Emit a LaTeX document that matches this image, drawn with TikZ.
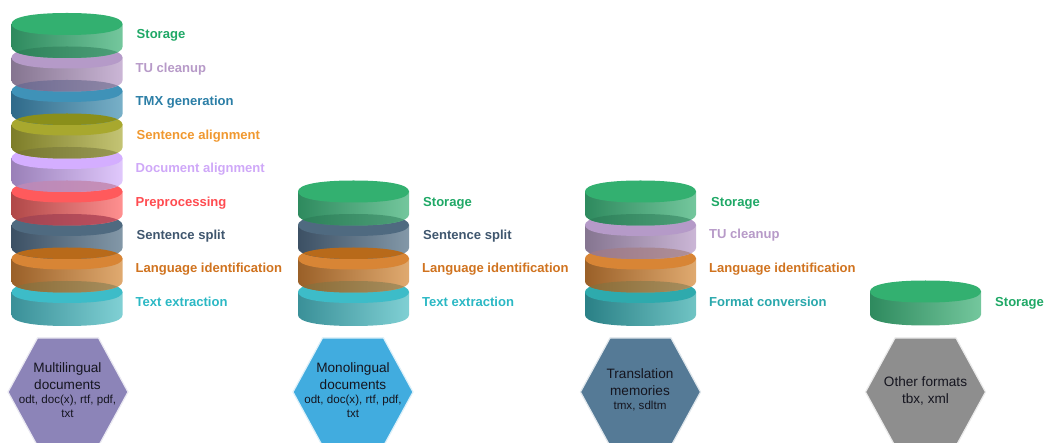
\documentclass[tikz,border=0pt]{standalone}
\usepackage{fontspec}
\setmainfont{Liberation Sans}
\definecolor{stoT}{HTML}{33B070}\definecolor{stoL}{HTML}{2E8A5E}\definecolor{stoR}{HTML}{74C79D}
\definecolor{tuT}{HTML}{B59AC8}\definecolor{tuL}{HTML}{857590}\definecolor{tuR}{HTML}{CBB6D6}
\definecolor{tmxT}{HTML}{3F92B8}\definecolor{tmxL}{HTML}{2F6A8A}\definecolor{tmxR}{HTML}{78B0C8}
\definecolor{senT}{HTML}{A8A82E}\definecolor{senL}{HTML}{7D7D28}\definecolor{senR}{HTML}{C4C474}
\definecolor{docT}{HTML}{D4AEFF}\definecolor{docL}{HTML}{9A80B8}\definecolor{docR}{HTML}{E0C8FC}
\definecolor{preT}{HTML}{FF5A5C}\definecolor{preL}{HTML}{B04848}\definecolor{preR}{HTML}{FF9090}
\definecolor{splT}{HTML}{4F6A80}\definecolor{splL}{HTML}{3C5064}\definecolor{splR}{HTML}{8398A8}
\definecolor{lanT}{HTML}{D88535}\definecolor{lanL}{HTML}{9A6028}\definecolor{lanR}{HTML}{E0AA70}
\definecolor{txtT}{HTML}{3DBCC8}\definecolor{txtL}{HTML}{3A9098}\definecolor{txtR}{HTML}{80D0D4}
\definecolor{fmtT}{HTML}{2EAAAD}\definecolor{fmtL}{HTML}{2A8086}\definecolor{fmtR}{HTML}{70C4C4}
\definecolor{hexA}{HTML}{8C84B8}\definecolor{hexB}{HTML}{41ACDF}\definecolor{hexC}{HTML}{557A96}\definecolor{hexD}{HTML}{8E8E8E}
\definecolor{labSto}{HTML}{1FA866}\definecolor{labTu}{HTML}{B79AC8}\definecolor{labTmx}{HTML}{2B7EA6}
\definecolor{labSen}{HTML}{F0982F}\definecolor{labDoc}{HTML}{CFA8F8}\definecolor{labPre}{HTML}{FF4B50}
\definecolor{labSpl}{HTML}{3F566E}\definecolor{labLan}{HTML}{D0731F}\definecolor{labTxt}{HTML}{2BB8C4}\definecolor{labFmt}{HTML}{2AA8AC}
\definecolor{hexText}{HTML}{15151F}
% overlap lenses
\definecolor{lzStoL}{HTML}{2B8058}\definecolor{lzStoR}{HTML}{4FA07A}
\definecolor{lzTuL}{HTML}{6D6A90}\definecolor{lzTuR}{HTML}{9088A8}
\definecolor{lzTmx}{HTML}{8A8F1A}
\definecolor{lzSenL}{HTML}{76762F}\definecolor{lzSenR}{HTML}{9A9A55}
\definecolor{lzDocL}{HTML}{B888B8}\definecolor{lzDocR}{HTML}{C890B8}
\definecolor{lzPreL}{HTML}{A04450}\definecolor{lzPreR}{HTML}{C05060}
\definecolor{lzSpl}{HTML}{B86A1A}
\definecolor{lzLanL}{HTML}{8A6A35}\definecolor{lzLanR}{HTML}{A89060}
\definecolor{lzTvL}{HTML}{9A7888}\definecolor{lzTvR}{HTML}{B09098}
\tikzset{
  x=1pt,y=1pt,
  steplabel/.style={anchor=base west,inner sep=0pt,font=\fontsize{13.05}{15}\selectfont\bfseries},
  hextext/.style={align=center,inner sep=0pt,text=hexText,font=\fontsize{13.6}{17}\selectfont}
}
\newcommand{\smalltxt}{\fontsize{11.6}{13}\selectfont}
% slightly squared ellipse, x centre and y (pixels, upwards negative)
\newcommand{\upperhalf}[2]{(#1-55.5,#2) .. controls (#1-55.5,#2+7) and (#1-35,#2+11) .. (#1,#2+11) .. controls (#1+35,#2+11) and (#1+55.5,#2+7) .. (#1+55.5,#2)}
\newcommand{\lowerhalf}[2]{(#1-55.5,#2) .. controls (#1-55.5,#2-7) and (#1-35,#2-11) .. (#1,#2-11) .. controls (#1+35,#2-11) and (#1+55.5,#2-7) .. (#1+55.5,#2)}
% x centre, y of top ellipse centre (pixels), colour stem
\newcommand{\disk}[3]{%
  \shade[left color=#3L,right color=#3R]
    (#1-55.5,-#2) -- \lowerhalf{#1}{-#2-23} -- (#1+55.5,-#2) -- cycle;
  \fill[#3T] \upperhalf{#1}{-#2} -- (#1+55.5,-#2)
    .. controls (#1+55.5,-#2-7) and (#1+35,-#2-11) .. (#1,-#2-11)
    .. controls (#1-35,-#2-11) and (#1-55.5,-#2-7) .. (#1-55.5,-#2) -- cycle;
}
% darker lens where the disk above overlaps the top of the disk at y=#2
\newcommand{\lap}[4]{%
  \begin{scope}
    \clip \upperhalf{#1}{-#2} -- (#1+55.5,-#2)
      .. controls (#1+55.5,-#2-7) and (#1+35,-#2-11) .. (#1,-#2-11)
      .. controls (#1-35,-#2-11) and (#1-55.5,-#2-7) .. (#1-55.5,-#2) -- cycle;
    \shade[left color=#3,right color=#4]
      (#1-55.5,-#2+10.5) -- \lowerhalf{#1}{-#2+10.5} -- (#1+55.5,-#2+25) -- (#1-55.5,-#2+25) -- cycle;
  \end{scope}
}
\newcommand{\hexa}[3]{%
  \fill[#3,draw=#3!18!white,line width=1.2pt]
    (#1-60,-#2) -- (#1-30.5,-#2+54) -- (#1+30.5,-#2+54) -- (#1+60,-#2)
    -- (#1+30.5,-#2-54) -- (#1-30.5,-#2-54) -- cycle;
}
\newcommand{\lab}[5]{\node[steplabel,text=#4] (#1) at (#2,-#3-0.4) {#5};}
\begin{document}
\begin{tikzpicture}
\path[use as bounding box,clip] (0,-443) rectangle (1044,0);
% Stack 1
\disk{67}{292}{txt}
\disk{67}{258.5}{lan}\lap{67}{292}{lzLanL}{lzLanR}
\disk{67}{225}{spl}\lap{67}{258.5}{lzSpl}{lzSpl}
\disk{67}{191.5}{pre}\lap{67}{225}{lzPreL}{lzPreR}
\disk{67}{158}{doc}\lap{67}{191.5}{lzDocL}{lzDocR}
\disk{67}{124.5}{sen}\lap{67}{158}{lzSenL}{lzSenR}
\disk{67}{91}{tmx}\lap{67}{124.5}{lzTmx}{lzTmx}
\disk{67}{57.5}{tu}\lap{67}{91}{lzTuL}{lzTuR}
\disk{67}{24}{sto}\lap{67}{57.5}{lzStoL}{lzStoR}
% Stack 2
\disk{353.5}{292}{txt}
\disk{353.5}{258.5}{lan}\lap{353.5}{292}{lzLanL}{lzLanR}
\disk{353.5}{225}{spl}\lap{353.5}{258.5}{lzSpl}{lzSpl}
\disk{353.5}{191.5}{sto}\lap{353.5}{225}{lzStoL}{lzStoR}
% Stack 3
\disk{640.5}{292}{fmt}
\disk{640.5}{258.5}{lan}\lap{640.5}{292}{lzLanL}{lzLanR}
\disk{640.5}{225}{tu}\lap{640.5}{258.5}{lzTvL}{lzTvR}
\disk{640.5}{191.5}{sto}\lap{640.5}{225}{lzStoL}{lzStoR}
% Stack 4
\disk{925.5}{291.5}{sto}
% Hexagons
\hexa{68}{392}{hexA}
\hexa{353}{392}{hexB}
\hexa{640.5}{392}{hexC}
\hexa{925.5}{392}{hexD}
\node[hextext] (hm) at (67.5,-390.5) {Multilingual\\documents\\[-3pt]\smalltxt odt, doc(x), rtf, pdf,\\[-3pt]\smalltxt txt};
\node[hextext] (ho) at (353,-390.5) {Monolingual\\documents\\[-3pt]\smalltxt odt, doc(x), rtf, pdf,\\[-3pt]\smalltxt txt};
\node[hextext] (ht) at (640,-390.2) {Translation\\memories\\[-3pt]\smalltxt tmx, sdltm};
\node[hextext] (hf) at (925.5,-390.5) {Other formats\\tbx, xml};
% Labels, stack 1
\lab{a1}{136.5}{38.5}{labSto}{Storage}
\lab{a2}{135.5}{72}{labTu}{TU cleanup}
\lab{a3}{135.5}{105.5}{labTmx}{TMX generation}
\lab{a4}{136.5}{139}{labSen}{Sentence alignment}
\lab{a5}{135.5}{172.5}{labDoc}{Document alignment}
\lab{a6}{135.5}{206}{labPre}{Preprocessing}
\lab{a7}{136.5}{239}{labSpl}{Sentence split}
\lab{a8}{135.5}{272.5}{labLan}{Language identification}
\lab{a9}{135.5}{306}{labTxt}{Text extraction}
% Labels, stack 2
\lab{b1}{423}{206}{labSto}{Storage}
\lab{b2}{423}{239}{labSpl}{Sentence split}
\lab{b3}{422}{272.5}{labLan}{Language identification}
\lab{b4}{422}{306}{labTxt}{Text extraction}
% Labels, stack 3
\lab{c1}{711}{206}{labSto}{Storage}
\lab{c2}{709}{238}{labTu}{TU cleanup}
\lab{c3}{709}{272.5}{labLan}{Language identification}
\lab{c4}{709}{306}{labFmt}{Format conversion}
% Label, stack 4
\lab{d1}{995}{306}{labSto}{Storage}
\end{tikzpicture}
\end{document}
